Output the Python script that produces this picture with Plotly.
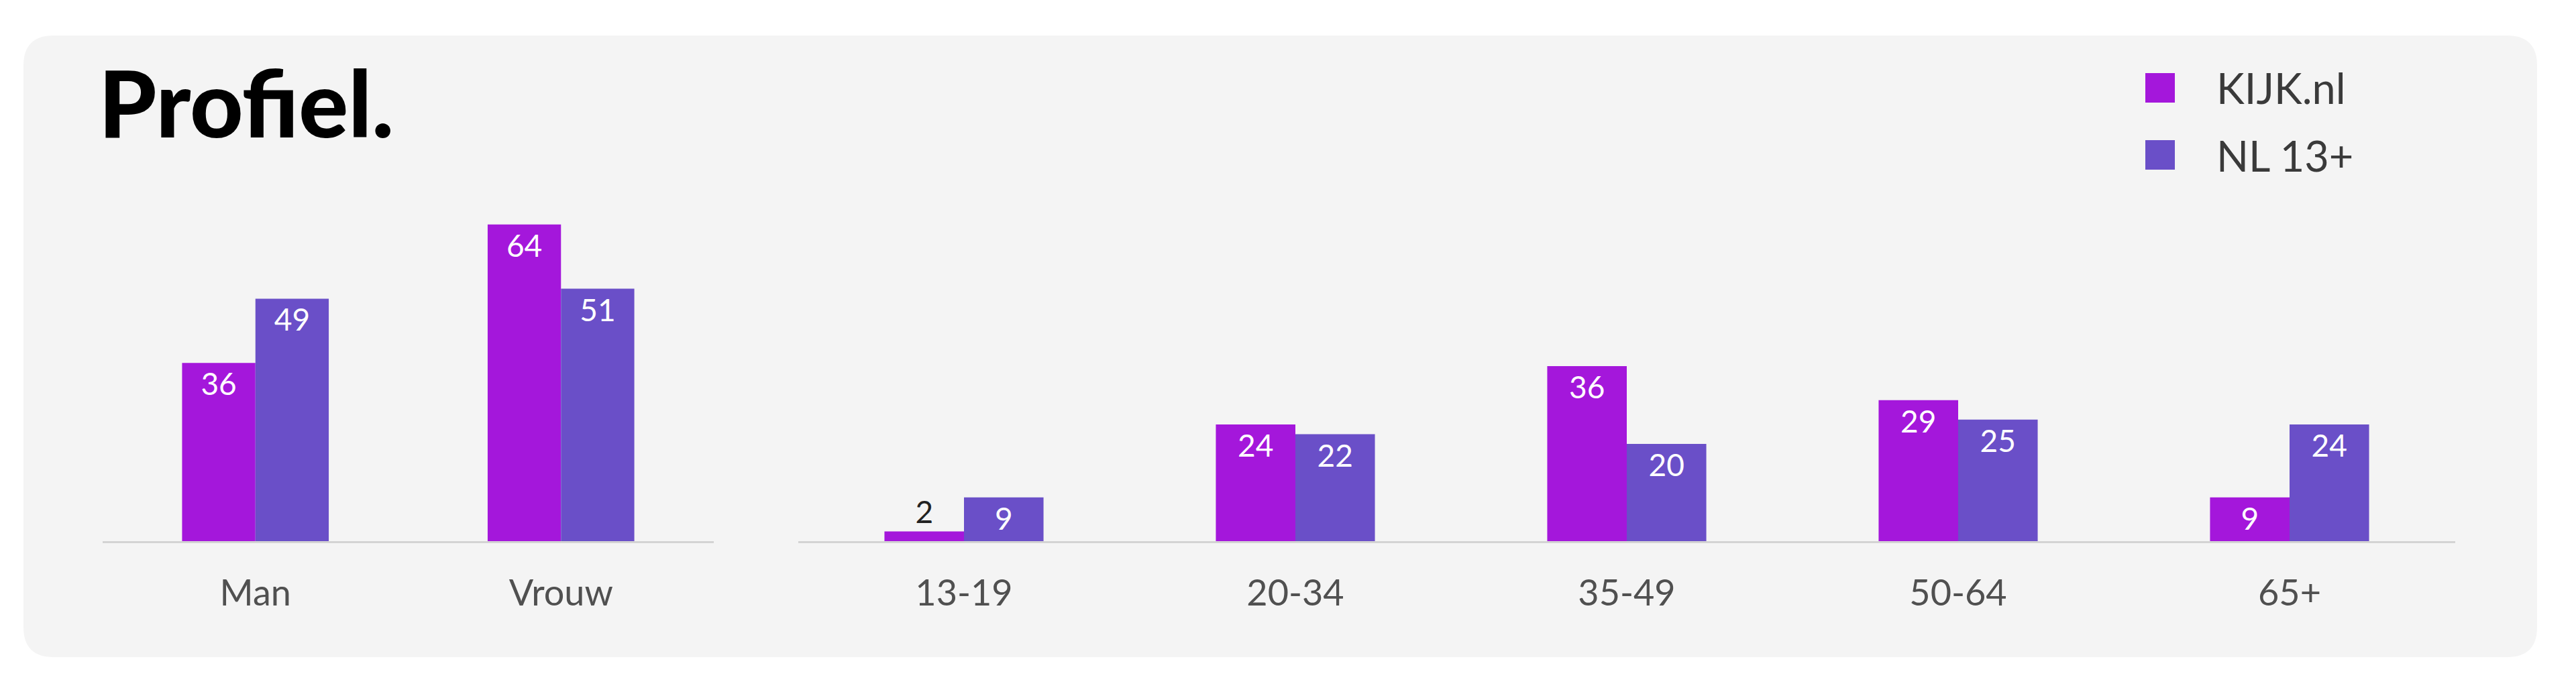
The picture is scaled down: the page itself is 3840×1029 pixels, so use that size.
import plotly.graph_objects as go

# ---------------- data ----------------
gender_categories = ["Man", "Vrouw"]
age_categories = ["13-19", "20-34", "35-49", "50-64", "65+"]
series_names = ["KIJK.nl", "NL 13+"]
series_colors = ["#A417DB", "#6A4FC8"]
kijk_gender = [36, 64]
nl_gender = [49, 51]
kijk_age = [2, 24, 36, 29, 9]
nl_age = [9, 22, 20, 25, 24]
title_text = "Profiel."

W, H = 3840, 1029
FONT = "Lato, 'Open Sans', sans-serif"


def px_x(p):
    return p / W


def px_y(p):
    return 1 - p / H


fig = go.Figure()

gender_values = [kijk_gender, nl_gender]
age_values = [kijk_age, nl_age]

for i, name in enumerate(series_names):
    common = dict(
        name=name,
        marker=dict(color=series_colors[i], line=dict(width=0)),
        textposition="auto",
        insidetextanchor="end",
        textangle=0,
        insidetextfont=dict(color="white", size=46, family=FONT),
        outsidetextfont=dict(color="#222222", size=46, family=FONT),
        cliponaxis=False,
        showlegend=False,
        hoverinfo="skip",
    )
    fig.add_trace(go.Bar(x=gender_categories, y=gender_values[i],
                         text=[str(v) for v in gender_values[i]],
                         xaxis="x", yaxis="y", offsetgroup=str(i), **common))
    fig.add_trace(go.Bar(x=age_categories, y=age_values[i],
                         text=[str(v) for v in age_values[i]],
                         xaxis="x2", yaxis="y2", offsetgroup=str(i), **common))

y_bottom, y_top = 807, 300
plot_h = y_bottom - y_top

axis_common = dict(
    showgrid=False, zeroline=False, showline=True, linecolor="#D3D3D3",
    linewidth=3, ticks="", tickfont=dict(size=54, color="#505050", family=FONT),
    ticklabelstandoff=28, fixedrange=True,
)
yaxis_common = dict(showgrid=False, zeroline=False, showline=False,
                    showticklabels=False, ticks="", fixedrange=True)

fig.update_layout(
    width=W, height=H,
    margin=dict(l=0, r=0, t=0, b=0, pad=0),
    paper_bgcolor="white",
    plot_bgcolor="rgba(0,0,0,0)",
    barmode="group",
    bargap=0.52,
    bargroupgap=0,
    font=dict(family=FONT),
    xaxis=dict(domain=[px_x(153), px_x(1064)], anchor="y", **axis_common),
    xaxis2=dict(domain=[px_x(1190), px_x(3660)], anchor="y2", **axis_common),
    yaxis=dict(domain=[px_y(y_bottom), px_y(y_top)], anchor="x",
               range=[0, plot_h / 7.38], **yaxis_common),
    yaxis2=dict(domain=[px_y(y_bottom), px_y(y_top)], anchor="x2",
                range=[0, plot_h / 7.25], **yaxis_common),
)

# rounded panel background
x0, x1, y0, y1, r = 35, 3782, 53, 980, 45
pts = [
    f"M {px_x(x0 + r)},{px_y(y0)}",
    f"L {px_x(x1 - r)},{px_y(y0)}",
    f"Q {px_x(x1)},{px_y(y0)} {px_x(x1)},{px_y(y0 + r)}",
    f"L {px_x(x1)},{px_y(y1 - r)}",
    f"Q {px_x(x1)},{px_y(y1)} {px_x(x1 - r)},{px_y(y1)}",
    f"L {px_x(x0 + r)},{px_y(y1)}",
    f"Q {px_x(x0)},{px_y(y1)} {px_x(x0)},{px_y(y1 - r)}",
    f"L {px_x(x0)},{px_y(y0 + r)}",
    f"Q {px_x(x0)},{px_y(y0)} {px_x(x0 + r)},{px_y(y0)}",
    "Z",
]
fig.add_shape(type="path", path=" ".join(pts), xref="paper", yref="paper",
              fillcolor="#F4F4F4", line=dict(width=0), layer="below")

# title
fig.add_annotation(text=title_text, xref="paper", yref="paper",
                   x=px_x(145), y=px_y(151), xanchor="left", yanchor="middle",
                   showarrow=False,
                   font=dict(family=FONT, size=138, color="#000000", weight=900))

# custom legend
leg_x0, leg_size = 3198, 44
leg_centers = [131, 231]
for i, name in enumerate(series_names):
    cy = leg_centers[i]
    fig.add_shape(type="rect", xref="paper", yref="paper",
                  x0=px_x(leg_x0), x1=px_x(leg_x0 + leg_size),
                  y0=px_y(cy + leg_size / 2), y1=px_y(cy - leg_size / 2),
                  fillcolor=series_colors[i], line=dict(width=0))
    fig.add_annotation(text=name, xref="paper", yref="paper",
                       x=px_x(3302), y=px_y(cy), xanchor="left", yanchor="middle",
                       showarrow=False,
                       font=dict(family=FONT, size=63, color="#3A3A3A"))

fig.write_html("out.html", post_script="document.body.style.margin='0';",
               config={"displayModeBar": False})
